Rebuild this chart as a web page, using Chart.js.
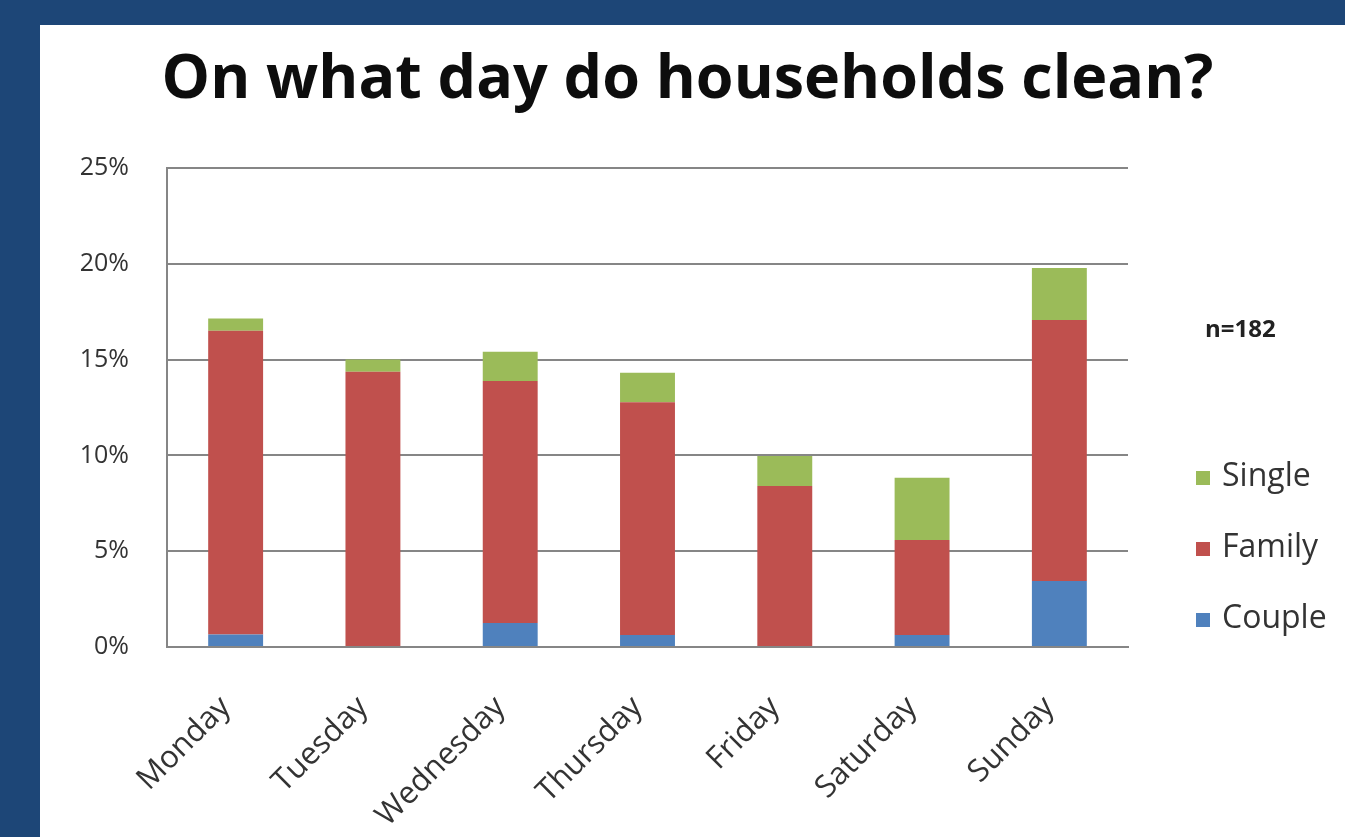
<!DOCTYPE html>
<html>
<head>
<meta charset="utf-8">
<script src="https://cdn.jsdelivr.net/npm/chart.js@4"></script>
<style>
  html, body { margin: 0; padding: 0; }
  body { width: 1345px; height: 837px; background: #1d4677; overflow: hidden; position: relative; }
  #panel { position: absolute; left: 40px; top: 25px; width: 1305px; height: 812px; background: #fff; }
</style>
</head>
<body>
<div id="panel"><canvas id="chart"></canvas></div>
<script>
const days = ['Monday', 'Tuesday', 'Wednesday', 'Thursday', 'Friday', 'Saturday', 'Sunday'];
const couple = [0.65, 0, 1.25, 0.63, 0, 0.63, 3.45];
const family = [15.85, 14.37, 12.63, 12.14, 8.4, 4.95, 13.62];
const single = [0.65, 0.63, 1.53, 1.55, 1.57, 3.26, 2.71];
const titleText = 'On what day do households clean?';
const sampleNote = 'n=182';

const FONT = '"Open Sans", Lato, sans-serif';
const GRID = '#868686';

// title across the whole panel, legend + n= note at the right of the plot
const decorations = {
  id: 'decorations',
  afterDraw(chart) {
    const ctx = chart.ctx;
    const area = chart.chartArea;
    ctx.save();
    ctx.fillStyle = '#0d0d0d';
    ctx.font = 'bold 61px ' + FONT;
    ctx.textAlign = 'center';
    ctx.textBaseline = 'alphabetic';
    ctx.fillText(titleText, chart.width / 2 - 5, 73);

    const x = area.right + 68;
    ctx.textAlign = 'left';
    ctx.textBaseline = 'middle';
    ctx.fillStyle = '#222';
    ctx.font = 'bold 24px ' + FONT;
    ctx.fillText(sampleNote, x + 9, area.top + 162);

    ctx.font = '32px ' + FONT;
    const items = chart.data.datasets.slice().reverse();
    items.forEach((ds, i) => {
      const y = area.top + 310 + i * 71;
      ctx.fillStyle = ds.backgroundColor;
      ctx.fillRect(x, y - 7, 14, 14);
      ctx.fillStyle = '#333';
      ctx.fillText(ds.label, x + 26, y - 1);
    });
    ctx.restore();
  }
};

new Chart(document.getElementById('chart'), {
  type: 'bar',
  data: {
    labels: days,
    datasets: [
      { label: 'Couple', data: couple, backgroundColor: '#4f81bd' },
      { label: 'Family', data: family, backgroundColor: '#c0504d' },
      { label: 'Single', data: single, backgroundColor: '#9bbb59' }
    ]
  },
  options: {
    responsive: true,
    maintainAspectRatio: false,
    animation: false,
    layout: { padding: { top: 143, right: 217 } },
    datasets: { bar: { categoryPercentage: 1, barPercentage: 0.4 } },
    plugins: {
      legend: { display: false },
      tooltip: { enabled: false },
      title: { display: false }
    },
    scales: {
      x: {
        stacked: true,
        grid: { display: false },
        border: { display: true, color: GRID, width: 2 },
        ticks: {
          color: '#333',
          font: { family: FONT, size: 31 },
          maxRotation: 45,
          minRotation: 45,
          padding: 34,
          labelOffset: -10
        },
        afterFit(scale) { scale.height = 190; }
      },
      y: {
        stacked: true,
        min: 0,
        max: 25,
        grid: { color: GRID, lineWidth: 2, drawTicks: false },
        border: { display: true, color: GRID, width: 2 },
        ticks: {
          stepSize: 5,
          color: '#333',
          font: { family: FONT, size: 25 },
          padding: 38,
          callback: v => v + '%'
        },
        afterFit(scale) { scale.width = 127; }
      }
    }
  },
  plugins: [decorations]
});
</script>
</body>
</html>
